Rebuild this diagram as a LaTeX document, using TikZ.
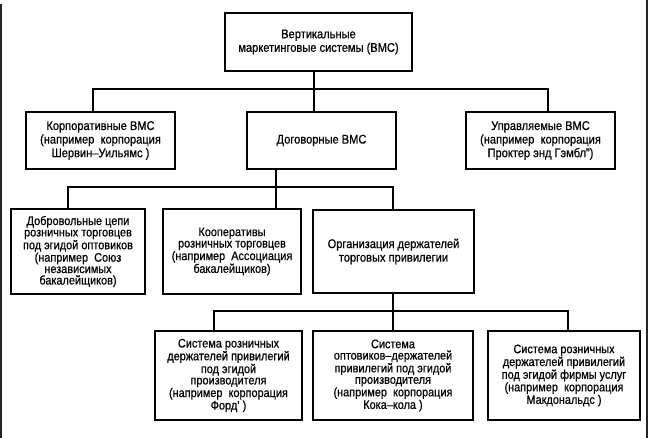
\documentclass[tikz,border=0pt]{standalone}
\usepackage{fontspec}
\setmainfont{Liberation Sans}[FakeStretch=0.88,FakeBold=0.6]
\begin{document}
\begin{tikzpicture}[x=1pt,y=-1pt,
  box/.style={draw=black, line width=1.4pt, inner sep=0pt, align=center, fill=white},
  big/.style={font=\fontsize{12.6}{13.6}\selectfont},
  small/.style={font=\fontsize{12.4}{11.4}\selectfont},
  conn/.style={draw=black, line width=1.3pt},
  edge/.style={draw=black!85, line width=1.6pt}]
\useasboundingbox (0,0) rectangle (649,438);
\fill[white] (0,0) rectangle (649,438);
% scan edges
\draw[edge] (1,4) -- (1,438);
\draw[edge] (647,0) -- (647,438);
% nodes
\node[box,big,minimum width=187pt,minimum height=58pt] (top) at (318.5,42) {Вертикальные\\маркетинговые системы (ВМС)};
\node[box,big,minimum width=149pt,minimum height=57pt] (korp) at (100.5,140.5) {Корпоративные ВМС\\(например~ корпорация\\Шервин–Уильямс )};
\node[box,big,minimum width=149pt,minimum height=57pt] (dog) at (321.5,140.5) {Договорные ВМС};
\node[box,big,minimum width=149pt,minimum height=57pt] (upr) at (540.5,140.5) {Управляемые ВМС\\(например~ корпорация\\Проктер энд Гэмбл")};
\node[box,small,minimum width=134pt,minimum height=85pt] (dobr) at (78,251.5) {Добровольные цепи\\розничных торговцев\\под эгидой оптовиков\\(например~ Союз\\независимых\\бакалейщиков)};
\node[box,small,minimum width=138pt,minimum height=85pt] (koop) at (232,251.5) {Кооперативы\\розничных торговцев\\(например~ Ассоциация\\бакалейщиков)};
\node[box,big,minimum width=161pt,minimum height=83pt] (org) at (393.5,251.5) {Организация держателей\\торговых привилегии};
\node[box,small,minimum width=147pt,minimum height=89pt] (s1) at (228.5,375.5) {Система розничных\\держателей привилегий\\под эгидой\\производителя\\(например~ корпорация\\Форд’ )};
\node[box,small,minimum width=160pt,minimum height=89pt] (s2) at (393,375.5) {Система\\оптовиков–держателей\\привилегий под эгидой\\производителя\\(например~ корпорация\\Кока–кола )};
\node[box,small,minimum width=152pt,minimum height=89pt] (s3) at (564,375.5) {Система розничных\\держателей привилегий\\под эгидой фирмы услуг\\(например~ корпорация\\Макдональдс )};
% junction coordinates
\coordinate (h1L) at (93,89);
\coordinate (h1R) at (548,89);
\coordinate (j1) at (314,89);
\coordinate (h2L) at (68,187);
\coordinate (h2R) at (393,187);
\coordinate (j2) at (276,187);
\coordinate (h3L) at (214,311);
\coordinate (h3R) at (568,311);
\coordinate (j3) at (393,311);
% connectors
\draw[conn] (korp.north -| h1L) |- (h1R) -- (upr.north -| h1R);
\draw[conn] (top.south -| j1) -- (dog.north -| j1);
\draw[conn] (dobr.north -| h2L) |- (h2R) -- (org.north -| h2R);
\draw[conn] (dog.south -| j2) -- (koop.north -| j2);
\draw[conn] (s1.north -| h3L) |- (h3R) -- (s3.north -| h3R);
\draw[conn] (org.south -| j3) -- (s2.north -| j3);
\end{tikzpicture}
\end{document}
